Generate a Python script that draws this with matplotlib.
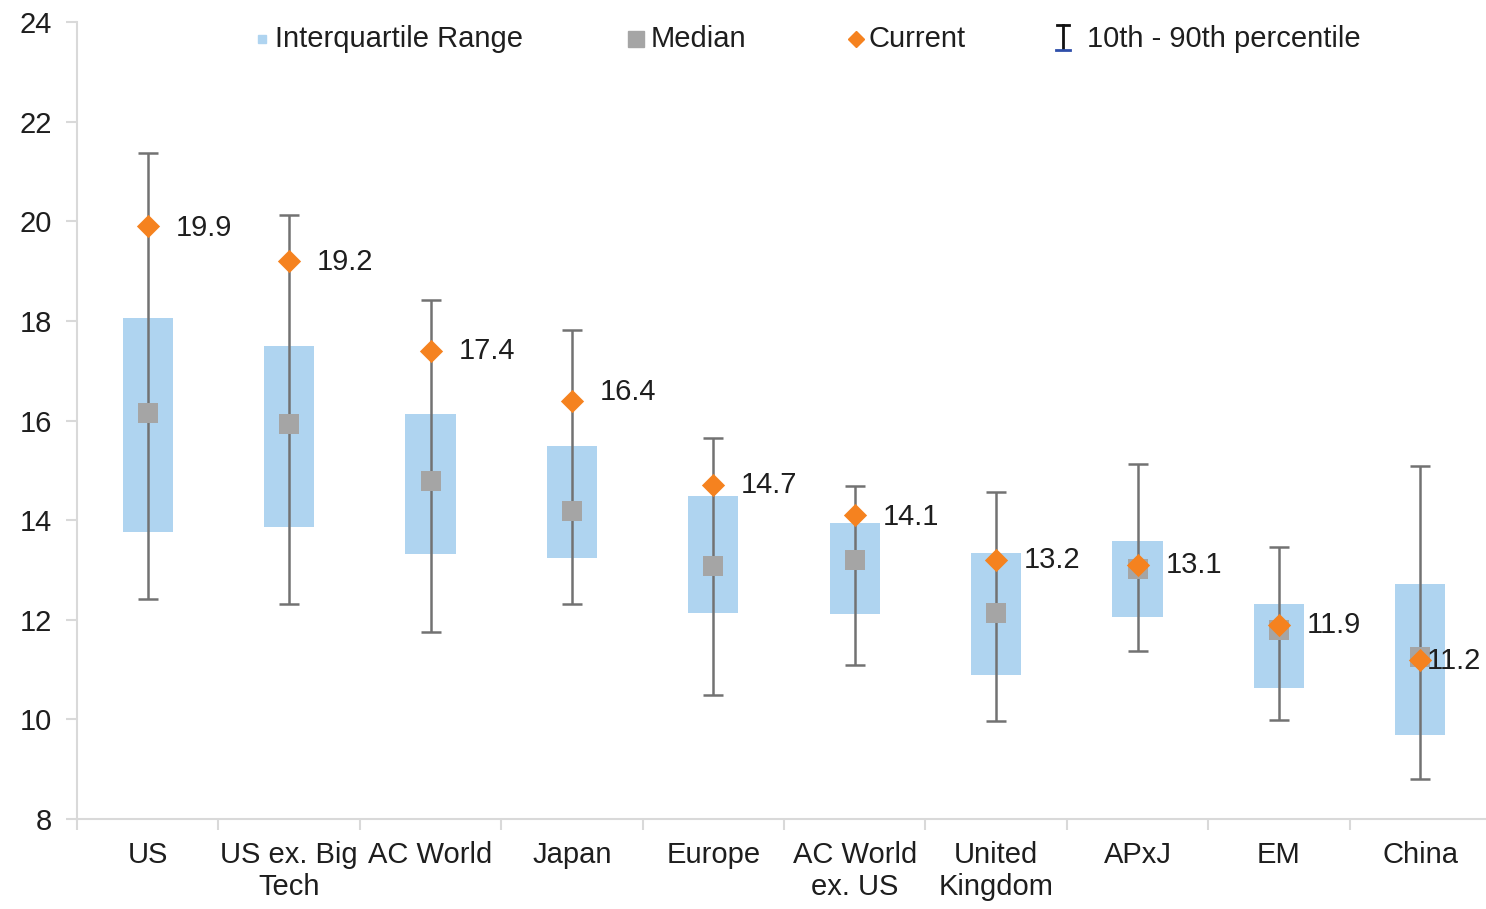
import matplotlib
matplotlib.use("Agg")
import matplotlib.pyplot as plt
from matplotlib.lines import Line2D
import numpy as np

plt.rcParams['font.family'] = ['Liberation Sans', 'DejaVu Sans']

categories = ["US", "US ex. Big\nTech", "AC World", "Japan", "Europe",
              "AC World\nex. US", "United\nKingdom", "APxJ", "EM", "China"]
p10 = [12.42, 12.32, 11.75, 12.32, 10.49, 11.09, 9.97, 11.37, 9.99, 8.80]
p90 = [21.37, 20.13, 18.42, 17.82, 15.65, 14.69, 14.57, 15.13, 13.46, 15.09]
q1 = [13.76, 13.86, 13.32, 13.24, 12.14, 12.12, 10.89, 12.06, 10.63, 9.69]
q3 = [18.06, 17.50, 16.13, 15.49, 14.49, 13.94, 13.34, 13.58, 12.32, 12.72]
median = [16.15, 15.93, 14.79, 14.18, 13.08, 13.20, 12.14, 13.02, 11.80, 11.25]
current = [19.9, 19.2, 17.4, 16.4, 14.7, 14.1, 13.2, 13.1, 11.9, 11.2]
yticks = [8, 10, 12, 14, 16, 18, 20, 22, 24]

# label offsets (points) for the value labels
lab_dx = [20, 20, 20, 20, 20, 20, 20, 20, 20, 5]
lab_dy = [-1, -1, 0, 6, 0, -1, 0, 0, 0, -1]

W, H = 1486, 909
FS = 21
TXT = "#1e1e1e"
fig = plt.figure(figsize=(W / 100, H / 100), dpi=100)
ax = fig.add_axes([77 / W, 1 - 819 / H, (1491 - 77) / W, (819 - 22) / H])

x = np.arange(len(categories))
blue = "#afd4f0"
grey = "#a5a5a5"
orange = "#f5821f"
wcol = "#727272"

ax.bar(x, np.array(q3) - np.array(q1), bottom=q1, width=0.355, color=blue, zorder=1)
ax.errorbar(x, median, yerr=[np.array(median) - np.array(p10), np.array(p90) - np.array(median)],
            fmt='none', ecolor=wcol, elinewidth=1.8, capsize=7, capthick=1.8, zorder=2)
ax.scatter(x, median, marker='s', s=200, color=grey, zorder=3, linewidths=0)
ax.scatter(x, current, marker='D', s=140, color=orange, zorder=4, linewidths=0)
for xi, c, dx, dy in zip(x, current, lab_dx, lab_dy):
    ax.annotate(f"{c:.1f}", (xi, c), xytext=(dx, dy), textcoords='offset points',
                va='center', ha='left', fontsize=FS, color=TXT, zorder=5)

ax.set_xlim(-0.5, len(categories) - 0.5)
ax.set_ylim(8, 24)
ax.set_yticks(yticks)
ax.set_yticklabels([str(t) for t in yticks], fontsize=FS, color=TXT)
ax.set_xticks(x)
ax.set_xticklabels(categories, fontsize=FS, color=TXT, linespacing=1.15)
ax.set_xticks(np.arange(len(categories) + 1) - 0.5, minor=True)
ax.tick_params(axis='x', which='major', length=0, pad=16)
ax.tick_params(axis='x', which='minor', length=8, width=1.5, color="#d9d9d9")
ax.tick_params(axis='y', length=8, width=1.5, color="#d9d9d9", pad=10)
for s in ['top', 'right']:
    ax.spines[s].set_visible(False)
for s in ['left', 'bottom']:
    ax.spines[s].set_color("#d9d9d9")
    ax.spines[s].set_linewidth(1.5)

# Legend drawn manually in figure pixel coordinates
def fx(px):
    return px / W

def fy(py):
    return 1 - py / H

ly = 39
fig.add_artist(Line2D([fx(262)], [fy(ly)], marker='s', markersize=6, color=blue, linestyle='none'))
fig.text(fx(275), fy(ly), "Interquartile Range", fontsize=FS, va='center', ha='left', color=TXT)
fig.add_artist(Line2D([fx(636)], [fy(ly)], marker='s', markersize=12, color=grey, linestyle='none'))
fig.text(fx(651), fy(ly), "Median", fontsize=FS, va='center', ha='left', color=TXT)
fig.add_artist(Line2D([fx(856)], [fy(ly)], marker='D', markersize=8, color=orange, linestyle='none'))
fig.text(fx(869), fy(ly), "Current", fontsize=FS, va='center', ha='left', color=TXT)
# I-beam icon
fig.add_artist(Line2D([fx(1063), fx(1063)], [fy(25), fy(49)], color="#111111", linewidth=2))
fig.add_artist(Line2D([fx(1057), fx(1069)], [fy(25), fy(25)], color="#111111", linewidth=2))
fig.add_artist(Line2D([fx(1056), fx(1070)], [fy(50), fy(50)], color="#2f4faa", linewidth=2))
fig.text(fx(1087), fy(ly), "10th - 90th percentile", fontsize=FS, va='center', ha='left', color=TXT)

fig.savefig("out.png", dpi=100)
